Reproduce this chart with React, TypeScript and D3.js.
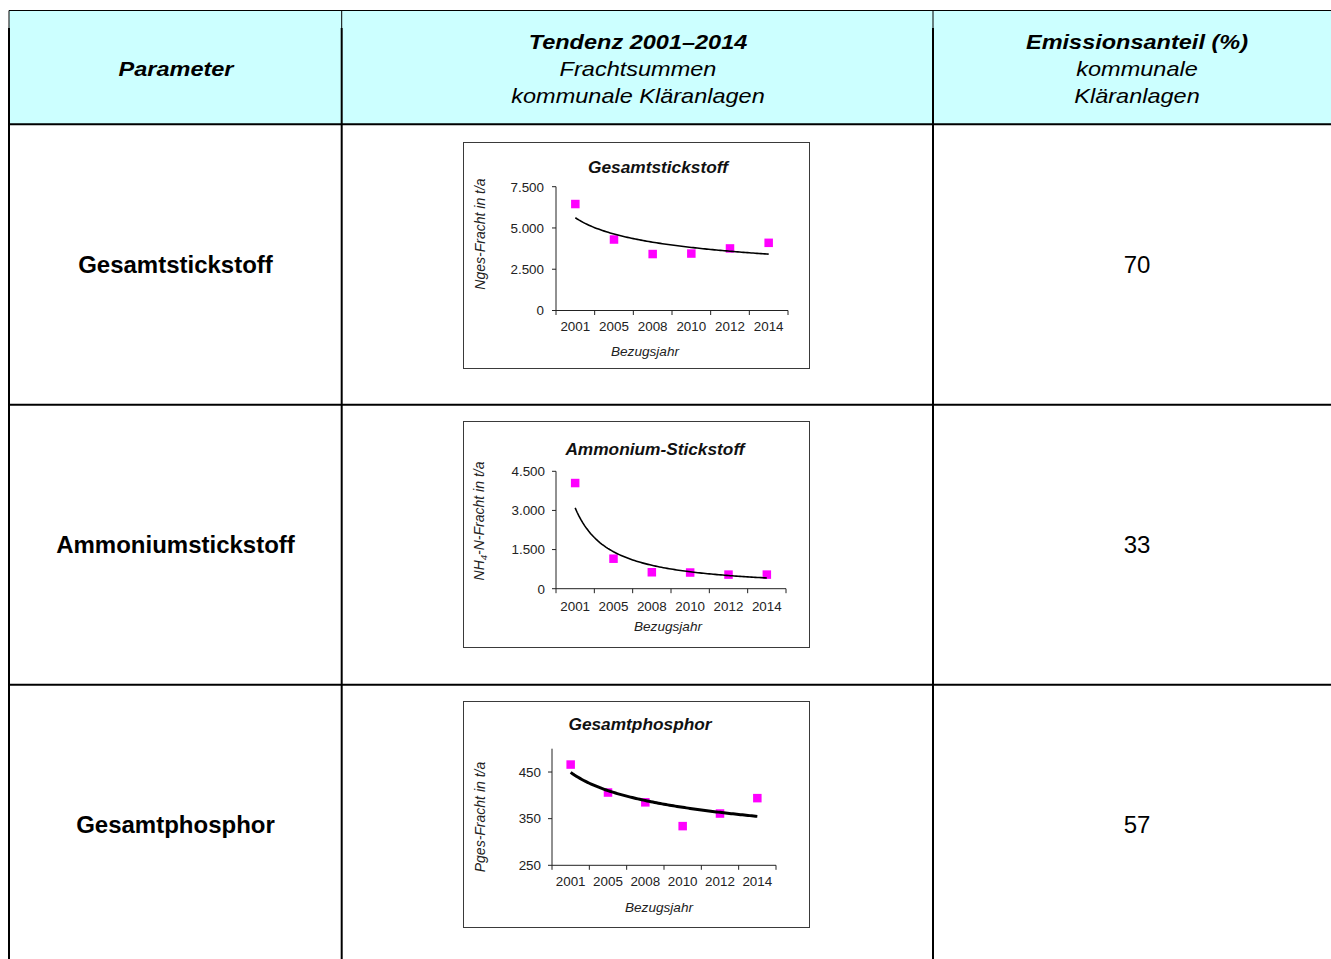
import React from "react";
import * as d3 from "d3";

// ---------- data ----------
const years = ["2001", "2005", "2008", "2010", "2012", "2014"];
const nGesValues = [6450, 4300, 3420, 3450, 3760, 4100];
const nh4Values = [4050, 1150, 630, 620, 540, 540];
const pGesValues = [466, 406, 385, 334, 361, 394];
const nGesTicks = [0, 2500, 5000, 7500];
const nh4Ticks = [0, 1500, 3000, 4500];
const pGesTicks = [250, 350, 450];
const parameters = ["Gesamtstickstoff", "Ammoniumstickstoff", "Gesamtphosphor"];
const shares = ["70", "33", "57"];
const headerParam = ["Parameter"];
const headerTrend = ["Tendenz 2001–2014", "Frachtsummen", "kommunale Kläranlagen"];
const headerShare = ["Emissionsanteil (%)", "kommunale", "Kläranlagen"];

const FONT = "'Liberation Sans', Arial, Helvetica, sans-serif";
const fmt = (v: number) => (v >= 1000 ? d3.format(",")(v).replace(/,/g, ".") : String(v));

// power trend line (Excel "Potenz") fitted to the series
function powerFit(vals: number[]) {
  const xs = vals.map((_, i) => Math.log(i + 1));
  const ys = vals.map((v) => Math.log(v));
  const mx = d3.mean(xs)!;
  const my = d3.mean(ys)!;
  let sxy = 0, sxx = 0;
  xs.forEach((x, i) => {
    sxy += (x - mx) * (ys[i] - my);
    sxx += (x - mx) * (x - mx);
  });
  const c = sxy / sxx;
  const d = my - c * mx;
  return (t: number) => Math.exp(d) * Math.pow(t, c);
}

type ChartCfg = {
  box: { x: number; y: number; w: number; h: number };
  x0: number; x1: number; yBottom: number; yTop: number;
  domain: [number, number];
  ticks: number[];
  values: number[];
  title: string;
  titlePos: [number, number];
  yLabel: React.ReactNode;
  yLabelPos: [number, number];
  tickLabelX: number;
  xTickBaseline: number;
  xLabelPos: [number, number];
  trendWidth: number;
};

function MiniChart({ cfg }: { cfg: ChartCfg }) {
  const xBand = d3.scaleBand<string>().domain(years).range([cfg.x0, cfg.x1]).padding(0);
  const y = d3.scaleLinear().domain(cfg.domain).range([cfg.yBottom, cfg.yTop]);
  const xCont = d3.scaleLinear().domain([0.5, years.length + 0.5]).range([cfg.x0, cfg.x1]);
  const f = powerFit(cfg.values);
  const ts = d3.range(0, 101).map((i) => 1 + (i / 100) * (years.length - 1));
  const line = d3.line<number>().x((t) => xCont(t)).y((t) => y(f(t)));
  const bw = xBand.bandwidth();
  const boundaries = d3.range(0, years.length + 1).map((i) => cfg.x0 + i * bw);
  const ms = 8.5;
  return (
    <g fontFamily={FONT}>
      <rect x={cfg.box.x} y={cfg.box.y} width={cfg.box.w} height={cfg.box.h} fill="#fff" stroke="#3a3a3a" strokeWidth={1} />
      <text x={cfg.titlePos[0]} y={cfg.titlePos[1]} textAnchor="middle" fontSize={17.3} fontWeight="bold" fontStyle="italic" fill="#111">
        {cfg.title}
      </text>
      {/* y axis */}
      <line x1={cfg.x0} x2={cfg.x0} y1={y(cfg.domain[1])} y2={y(cfg.domain[0])} stroke="#222" strokeWidth={1} />
      {cfg.ticks.map((t) => (
        <g key={t}>
          <line x1={cfg.x0 - 4} x2={cfg.x0} y1={y(t)} y2={y(t)} stroke="#222" strokeWidth={1} />
          <text x={cfg.tickLabelX} y={y(t) + 4.8} textAnchor="end" fontSize={13.4} fill="#222">
            {fmt(t)}
          </text>
        </g>
      ))}
      {/* x axis */}
      <line x1={cfg.x0} x2={cfg.x1} y1={cfg.yBottom} y2={cfg.yBottom} stroke="#222" strokeWidth={1} />
      {boundaries.map((bx, i) => (
        <line key={i} x1={bx} x2={bx} y1={cfg.yBottom} y2={cfg.yBottom + 4.5} stroke="#222" strokeWidth={1} />
      ))}
      {years.map((yr) => (
        <text key={yr} x={xBand(yr)! + bw / 2} y={cfg.xTickBaseline} textAnchor="middle" fontSize={13.4} fill="#222">
          {yr}
        </text>
      ))}
      <text x={cfg.xLabelPos[0]} y={cfg.xLabelPos[1]} textAnchor="middle" fontSize={13.6} fontStyle="italic" fill="#222">
        Bezugsjahr
      </text>
      <text
        transform={`translate(${cfg.yLabelPos[0] + 4.5},${cfg.yLabelPos[1]}) rotate(-90)`}
        textAnchor="middle"
        fontSize={14}
        fontStyle="italic"
        fill="#222"
      >
        {cfg.yLabel}
      </text>
      {/* points */}
      {cfg.values.map((v, i) => (
        <rect key={i} x={xBand(years[i])! + bw / 2 - ms / 2} y={y(v) - ms / 2} width={ms} height={ms} fill="#ff00ff" />
      ))}
      {/* trend */}
      <path d={line(ts)!} fill="none" stroke="#000" strokeWidth={cfg.trendWidth} />
    </g>
  );
}

const charts: ChartCfg[] = [
  {
    box: { x: 463.5, y: 142.5, w: 346, h: 226 },
    x0: 556, x1: 788, yBottom: 310.5, yTop: 186.7,
    domain: [0, 7500], ticks: nGesTicks, values: nGesValues,
    title: "Gesamtstickstoff", titlePos: [658, 173],
    yLabel: "Nges-Fracht in t/a", yLabelPos: [480, 234],
    tickLabelX: 544, xTickBaseline: 330.5, xLabelPos: [645, 356], trendWidth: 1.6,
  },
  {
    box: { x: 463.5, y: 421.5, w: 346, h: 226 },
    x0: 556, x1: 786, yBottom: 588.7, yTop: 471.3,
    domain: [0, 4500], ticks: nh4Ticks, values: nh4Values,
    title: "Ammonium-Stickstoff", titlePos: [655, 455],
    yLabel: (
      <>
        NH<tspan fontSize={9.5} dy={3}>4</tspan>
        <tspan dy={-3}>-N-Fracht in t/a</tspan>
      </>
    ),
    yLabelPos: [479, 521],
    tickLabelX: 545, xTickBaseline: 610.5, xLabelPos: [668, 631], trendWidth: 1.6,
  },
  {
    box: { x: 463.5, y: 701.5, w: 346, h: 226 },
    x0: 552, x1: 776, yBottom: 865.3, yTop: 748.7,
    domain: [250, 500], ticks: pGesTicks, values: pGesValues,
    title: "Gesamtphosphor", titlePos: [640, 730],
    yLabel: "Pges-Fracht in t/a", yLabelPos: [480, 817],
    tickLabelX: 541, xTickBaseline: 885.5, xLabelPos: [659, 912], trendWidth: 3,
  },
];

export default function App() {
  const W = 1331, H = 959;
  const rowsY = [124.3, 404.7, 684.7];
  const rowCenters = [265, 545, 825];
  const col1 = 341.7, col2 = 933;
  const hdrBase = [48.8, 76, 103];
  const sx = 1.12;
  const hdrText = (lines: string[], cx: number, bases: number[]) =>
    lines.map((t, i) => (
      <text
        key={t}
        transform={`translate(${cx},${bases[i]}) scale(${sx},1)`}
        textAnchor="middle"
        fontSize={21}
        fontStyle="italic"
        fontWeight={i === 0 ? "bold" : "normal"}
        fill="#000"
      >
        {t}
      </text>
    ));
  return (
    <svg
      width={W}
      height={H}
      viewBox={`0 0 ${W} ${H}`}
      style={{ position: "absolute", left: 0, top: 0, display: "block", background: "#fff" }}
      fontFamily={FONT}
    >
      <rect x={0} y={0} width={W} height={H} fill="#fff" />
      {/* header fill */}
      <rect x={9} y={11} width={W - 9} height={rowsY[0] - 11} fill="#ccffff" />
      {/* borders */}
      <line x1={9} x2={W} y1={10.5} y2={10.5} stroke="#000" strokeWidth={1} />
      {rowsY.map((ry) => (
        <line key={ry} x1={8} x2={W} y1={ry} y2={ry} stroke="#000" strokeWidth={2} />
      ))}
      {[9, col1, col2].map((cx) => (
        <g key={cx}>
          <line x1={cx} x2={cx} y1={10.5} y2={28} stroke="#000" strokeWidth={1} />
          <line x1={cx} x2={cx} y1={28} y2={H} stroke="#000" strokeWidth={2} />
        </g>
      ))}
      {/* header texts */}
      {hdrText(headerParam, 176, [76])}
      {hdrText(headerTrend, 638, hdrBase)}
      {hdrText(headerShare, 1137, hdrBase)}
      {/* row labels */}
      {parameters.map((p, i) => (
        <text key={p} x={175.5} y={rowCenters[i] + 8.3} textAnchor="middle" fontSize={24} fontWeight="bold" fill="#000">
          {p}
        </text>
      ))}
      {shares.map((s, i) => (
        <text key={i} x={1137} y={rowCenters[i] + 8.3} textAnchor="middle" fontSize={24} fill="#000">
          {s}
        </text>
      ))}
      {charts.map((c, i) => (
        <MiniChart key={i} cfg={c} />
      ))}
    </svg>
  );
}
